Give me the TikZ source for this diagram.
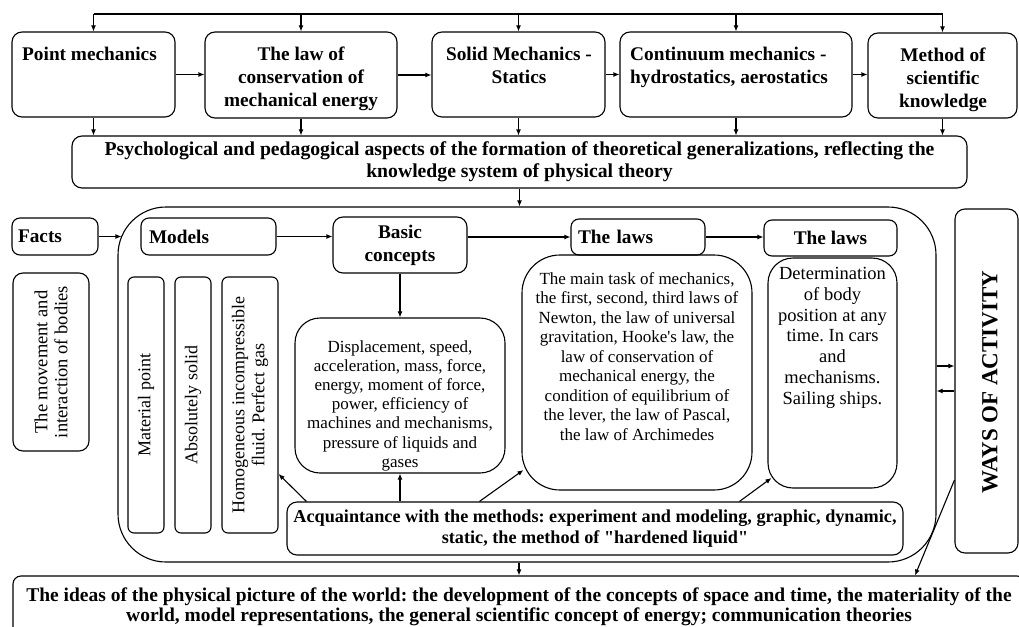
\documentclass[tikz,border=0pt]{standalone}
\usepackage{fontspec}
\setmainfont{Liberation Serif}
\usetikzlibrary{arrows.meta,calc}
\newcommand{\sdq}{\XeTeXglyph\XeTeXcharglyph"22\relax}
\newcommand{\sap}{\XeTeXglyph\XeTeXcharglyph"27\relax}
\frenchspacing
\begin{document}
\begin{tikzpicture}[x=1pt,y=-1pt,
  box/.style={draw, line width=1.1pt, rounded corners=10pt, inner sep=0pt},
  arr/.style={line width=1.1pt, -{Latex[length=6pt,width=5pt]}},
  ln/.style={line width=1.1pt},
  hd/.style={font=\fontsize{19.3}{23}\selectfont\bfseries, inner sep=0pt, align=center},
  tx/.style={font=\fontsize{17}{19.5}\selectfont, inner sep=0pt, align=center},
  vt/.style={font=\fontsize{18}{20}\selectfont, inner sep=0pt, align=center, rotate=90},
]
\useasboundingbox (0,0) rectangle (1019,626);
\clip (0,0) rectangle (1019,626);

% top row
\node[box, minimum width=163pt, minimum height=85pt] (pm) at (93.5,74.5) {};
\node[hd, anchor=north west] (pmT) at (22,47) {Point mechanics};
\node[box, minimum width=192pt, minimum height=86pt] (law) at (301,75) {};
\node[hd, anchor=north] (lawT) at (301,47) {The law of\\conservation of\\mechanical energy};
\node[box, minimum width=173pt, minimum height=85pt] (sol) at (518.5,74.5) {};
\node[hd, anchor=north] (solT) at (519,47) {Solid Mechanics -\\Statics};
\node[box, minimum width=232pt, minimum height=85pt] (con) at (736,74.5) {};
\node[hd, anchor=north west, align=left] (conT) at (630,47) {Continuum mechanics -\\hydrostatics, aerostatics};
\node[box, minimum width=149pt, minimum height=85pt] (met) at (942.5,75.5) {};
\node[hd, anchor=north] (metT) at (943,48) {Method of\\scientific\\knowledge};

\coordinate (top) at (0,14);
\draw[ln] (pm.north |- top) -- (met.north |- top);
\foreach \n in {pm,law,sol,con,met} \draw[arr] (\n.north |- top) -- (\n.north);
\draw[arr] (pm.east) -- (pm.east -| law.west);
\draw[arr] (law.east) -- (law.east -| sol.west);
\draw[arr] (sol.east) -- (sol.east -| con.west);
\draw[arr] (con.east) -- (con.east -| met.west);

% psych
\node[box, minimum width=895pt, minimum height=52pt, font=\fontsize{19.7}{22}\selectfont\bfseries, align=center] (psy) at (519.5,162) {Psychological and pedagogical aspects of the formation of theoretical generalizations, reflecting the\\knowledge system of physical theory};
\foreach \n in {pm,law,sol,con,met} \draw[arr] (\n.south) -- (\n.south |- psy.north);

% big frame
\node[box, rounded corners=48pt, minimum width=818pt, minimum height=355pt] (big) at (527,384.5) {};
\draw[arr] (psy.south) -- (psy.south |- big.north);

% second row heads
\node[box, rounded corners=8pt, minimum width=86pt, minimum height=37pt, hd, text width=74pt, align=left] (facts) at (55,236.5) {Facts};
\node[box, rounded corners=8pt, minimum width=135pt, minimum height=37pt, hd, text width=119pt, align=left] (mod) at (208.5,236.5) {Models};
\node[box, minimum width=134pt, minimum height=56pt, hd] (bas) at (400,245) {Basic\\concepts};
\node[box, rounded corners=8pt, minimum width=134pt, minimum height=36pt, hd, text width=120pt, align=left] (law1) at (638,237) {The laws};
\node[box, rounded corners=8pt, minimum width=133pt, minimum height=36pt, hd] (law2) at (830.5,238) {The laws};

\draw[arr] (facts.east) -- ($(big.west |- facts.east)+(4,0)$);
\draw[arr] (mod.east) -- (mod.east -| bas.west);
\draw[arr] (bas.east |- law1.west) -- (law1.west);
\draw[arr] (law1.east) -- (law1.east -| law2.west);

% movement
\node[box, minimum width=76pt, minimum height=178pt] (mov) at (51,362) {};
\node[vt, font=\fontsize{18.5}{20}\selectfont] (movT) at (mov.center) {The movement and\\interaction of bodies};

% models
\node[box, rounded corners=6pt, minimum width=36pt, minimum height=256pt] (mp) at (146,405) {};
\node[vt] (mpT) at (mp.center) {Material point};
\node[box, rounded corners=6pt, minimum width=36pt, minimum height=256pt] (abs) at (193,405) {};
\node[vt] (absT) at (abs.center) {Absolutely solid};
\node[box, rounded corners=6pt, minimum width=56pt, minimum height=256pt] (hom) at (250,405) {};
\node[vt] (homT) at (hom.center) {Homogeneous incompressible\\fluid. Perfect gas};

% basic description
\node[box, rounded corners=25pt, minimum width=210pt, minimum height=155pt] (bd) at (400,395.5) {};
\node[tx, font=\fontsize{17}{19.2}\selectfont, anchor=north] (bdT) at (400,340) {Displacement, speed,\\acceleration, mass, force,\\energy, moment of force,\\power, efficiency of\\machines and mechanisms,\\pressure of liquids and\\gases};
\draw[arr] (bas.south) -- (bas.south |- bd.north);

% laws description
\node[box, rounded corners=38pt, minimum width=230pt, minimum height=235pt] (ld) at (637,372.5) {};
\node[tx, anchor=north] (ldT) at (637,272) {The main task of mechanics,\\the first, second, third laws of\\Newton, the law of universal\\gravitation, Hooke\sap s law, the\\law of conservation of\\mechanical energy, the\\condition of equilibrium of\\the lever, the law of Pascal,\\the law of Archimedes};

\node[box, rounded corners=25pt, minimum width=129pt, minimum height=230pt] (ld2) at (832.5,373) {};
\node[tx, anchor=north, font=\fontsize{18.5}{20.8}\selectfont] (ld2T) at (832.5,267) {Determination\\of body\\position at any\\time. In cars\\and\\mechanisms.\\Sailing ships.};

% acquaintance
\node[box, minimum width=616pt, minimum height=53pt, font=\fontsize{18.2}{21}\selectfont\bfseries, align=center] (acq) at (595,528.5) {Acquaintance with the methods: experiment and modeling, graphic, dynamic,\\static, the method of \sdq hardened liquid\sdq};

\coordinate (w5) at (0,474);
\coordinate (w6) at (0,470);
\coordinate (w7) at (0,478);
\draw[arr] ([xshift=20pt]acq.north west) -- (hom.east |- w5);
\draw[arr] (acq.north -| bd.south) -- (bd.south);
\draw[arr] ([xshift=193pt]acq.north west) -- ($(ld.west |- w6)+(2,0)$);
\draw[arr] ([xshift=453pt]acq.north west) -- ($(ld2.west |- w7)+(4,0)$);

% ways of activity
\node[box, minimum width=63pt, minimum height=344pt] (ways) at (986.5,381) {};
\node[rotate=90, font=\fontsize{23}{25}\selectfont\bfseries, inner sep=0pt] (waysT) at (990,382) {WAYS OF ACTIVITY};
\coordinate (w1) at (0,366);
\coordinate (w2) at (0,391);
\coordinate (w3) at (0,480);
\coordinate (w4) at (915,0);
\draw[arr] (big.east |- w1) -- (ways.west |- w1);
\draw[arr] (ways.west |- w2) -- (big.east |- w2);

% bottom
\node[box, rounded corners=8pt, minimum width=1012pt, minimum height=62pt, font=\fontsize{19.5}{20}\selectfont\bfseries, align=center] (bot) at (519,607) {The ideas of the physical picture of the world: the development of the concepts of space and time, the materiality of the\\world, model representations, the general scientific concept of energy; communication theories};
\draw[arr] (bot.north |- big.south) -- (bot.north);
\draw[arr] (ways.west |- w3) -- (bot.north -| w4);
\end{tikzpicture}
\end{document}
